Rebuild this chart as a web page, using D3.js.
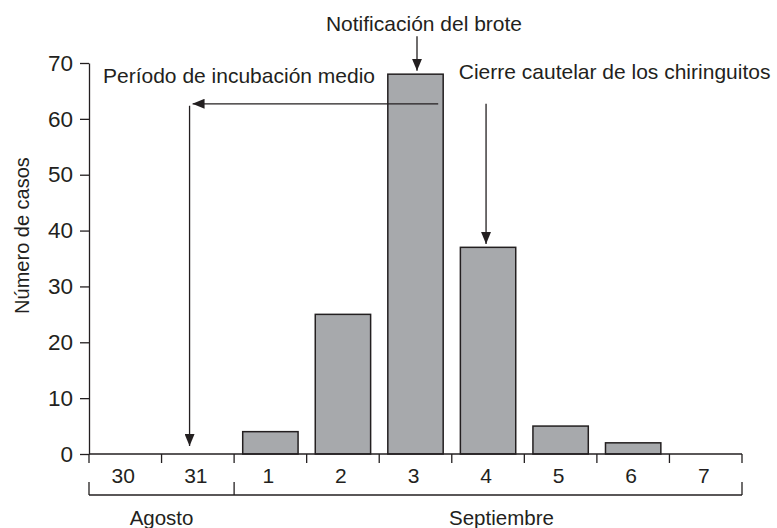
<!DOCTYPE html>
<html>
<head>
<meta charset="utf-8">
<script src="https://cdn.jsdelivr.net/npm/d3@7"></script>
<style>
  html, body { margin: 0; padding: 0; background: #fff; }
  svg { display: block; font-family: "Liberation Sans", Arial, Helvetica, sans-serif; }
</style>
</head>
<body>
<svg id="chart" width="777" height="528"></svg>
<script>
// ---- data ----
const days = ["30", "31", "1", "2", "3", "4", "5", "6", "7"];
const cases = [0, 0, 4, 25, 68, 37, 5, 2, 0];
const yTicks = [0, 10, 20, 30, 40, 50, 60, 70];
const months = [
  { name: "Agosto", first: "30", last: "31" },
  { name: "Septiembre", first: "1", last: "7" }
];
const yLabel = "Número de casos";
const notes = {
  notif: "Notificación del brote",
  incub: "Período de incubación medio",
  cierre: "Cierre cautelar de los chiringuitos"
};

// ---- layout ----
const W = 777, H = 528;
const m = { left: 89, right: 35, top: 63, bottom: 74 };
const ink = "#231f20";
const svg = d3.select("#chart");

const x = d3.scaleBand().domain(days).range([m.left, W - m.right]).paddingInner(0.237).paddingOuter(0.1185);
const xb = d3.scaleBand().domain(days).range([m.left, W - m.right]); // full-width bands for boundaries
const y = d3.scaleLinear().domain([0, 70]).range([H - m.bottom, m.top]);

const defs = svg.append("defs");
defs.append("marker")
  .attr("id", "ah").attr("viewBox", "0 0 12 10").attr("refX", 12).attr("refY", 5)
  .attr("markerWidth", 12).attr("markerHeight", 10).attr("markerUnits", "userSpaceOnUse")
  .attr("orient", "auto")
  .append("path").attr("d", "M0,0L12,5L0,10Z").attr("fill", ink);

// bars
svg.append("g").selectAll("rect").data(days.map((d, i) => ({ d, v: cases[i] })).filter(o => o.v > 0))
  .join("rect")
  .attr("x", o => x(o.d)).attr("width", x.bandwidth())
  .attr("y", o => y(o.v)).attr("height", o => y(0) - y(o.v))
  .attr("fill", "#a7a9ac").attr("stroke", ink).attr("stroke-width", 1.5);

// y axis
const ya = svg.append("g").attr("transform", `translate(${m.left},0)`)
  .call(d3.axisLeft(y).tickValues(yTicks).tickSize(9).tickSizeOuter(0).tickPadding(7));
ya.select(".domain").attr("stroke", ink).attr("stroke-width", 1.3);
ya.selectAll(".tick line").attr("stroke", ink).attr("stroke-width", 1.3);
ya.selectAll(".tick text").attr("fill", ink).attr("font-size", 22.5).attr("font-family", null);

// x baseline + boundary ticks
const bounds = days.map(d => xb(d)).concat([xb.range()[1]]);
const gx = svg.append("g");
gx.append("line").attr("x1", xb.range()[0]).attr("x2", xb.range()[1]).attr("y1", y(0)).attr("y2", y(0))
  .attr("stroke", ink).attr("stroke-width", 1.3);
gx.selectAll("line.tk").data(bounds).join("line").attr("class", "tk")
  .attr("x1", d => d).attr("x2", d => d).attr("y1", y(0)).attr("y2", y(0) + 9)
  .attr("stroke", ink).attr("stroke-width", 1.3);
gx.selectAll("text").data(days).join("text")
  .attr("x", d => xb(d) + xb.bandwidth() / 2 - 2).attr("y", y(0) + 29)
  .attr("text-anchor", "middle").attr("font-size", 21).attr("fill", ink).text(d => d);

// month brackets
const bY = y(0) + 41;
const gm = svg.append("g");
gm.append("line").attr("x1", xb.range()[0]).attr("x2", xb.range()[1]).attr("y1", bY).attr("y2", bY)
  .attr("stroke", ink).attr("stroke-width", 1.3);
const mBounds = [xb(months[0].first), xb(months[1].first), xb.range()[1]];
gm.selectAll("line.mb").data(mBounds).join("line").attr("class", "mb")
  .attr("x1", d => d).attr("x2", d => d).attr("y1", bY - 13).attr("y2", bY)
  .attr("stroke", ink).attr("stroke-width", 1.3);
gm.append("text").attr("x", (xb(months[0].first) + xb(months[0].last) + xb.bandwidth()) / 2)
  .attr("y", bY + 30).attr("text-anchor", "middle").attr("font-size", 20.5).attr("fill", ink).text(months[0].name);
gm.append("text").attr("x", xb("4") + xb.bandwidth() * 0.685)
  .attr("y", bY + 30).attr("text-anchor", "middle").attr("font-size", 20.5).attr("fill", ink).text(months[1].name);

// y axis label
svg.append("text").attr("transform", `translate(29,${(y(0) + y(70)) / 2 - 23}) rotate(-90)`)
  .attr("text-anchor", "middle").attr("font-size", 20).attr("fill", ink).text(yLabel);

// annotations
const arrow = (x1, y1, x2, y2) => svg.append("line")
  .attr("x1", x1).attr("y1", y1).attr("x2", x2).attr("y2", y2)
  .attr("stroke", ink).attr("stroke-width", 1.3).attr("marker-end", "url(#ah)");
const line = (x1, y1, x2, y2) => svg.append("line")
  .attr("x1", x1).attr("y1", y1).attr("x2", x2).attr("y2", y2)
  .attr("stroke", ink).attr("stroke-width", 1.3);
const note = (t, xx, yy, anchor) => svg.append("text").attr("x", xx).attr("y", yy)
  .attr("text-anchor", anchor).attr("font-size", 21).attr("fill", ink).text(t);

// Notificación del brote -> bar "3"
const cx3 = x("3") + x.bandwidth() / 2 + 1.5;
arrow(cx3, y(74.8), cx3, y(68.6));
note(notes.notif, cx3 + 7, y(75.8), "middle");

// Período de incubación medio
const incY = y(62.7);
const incX = xb("31") + xb.bandwidth() * 0.386;
arrow(x("3") + x.bandwidth() * 0.91, incY, incX + 3, incY);
arrow(incX, incY + 2, incX, y(0) - 8);
note(notes.incub, xb("30") + 14, y(66.4), "start");

// Cierre cautelar -> bar "4"
const cx4 = x("4") + x.bandwidth() / 2 - 2;
arrow(cx4, y(62.7), cx4, y(37.6));
note(notes.cierre, xb("4") + 7, y(67.1), "start");
</script>
</body>
</html>
